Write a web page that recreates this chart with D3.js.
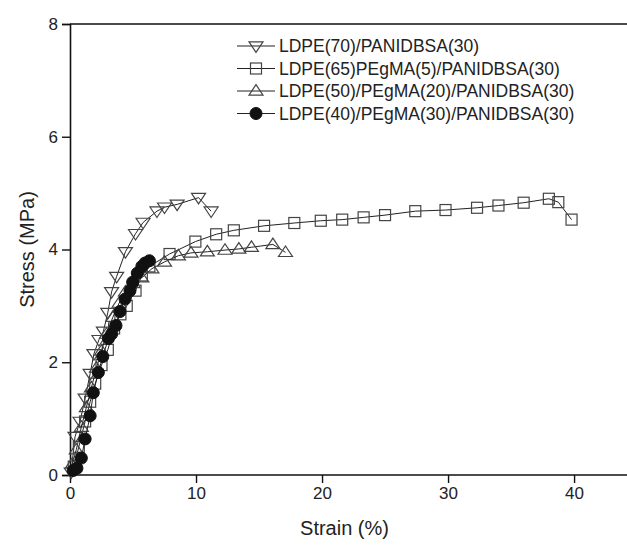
<!DOCTYPE html>
<html>
<head>
<meta charset="utf-8">
<script src="https://cdn.jsdelivr.net/npm/d3@7"></script>
<style>
  body { margin: 0; background: #fff; }
  svg { display: block; font-family: "Liberation Sans", Arial, sans-serif; }
</style>
</head>
<body>
<svg id="chart" width="627" height="545"></svg>
<script>
// strain (%), stress (MPa)
var ldpe70 = [[0.1,0.05],[0.4,0.68],[0.8,0.95],[1.2,1.36],[1.6,1.8],[1.9,2.15],[2.3,2.4],[2.65,2.55],[3.0,2.88],[3.3,3.25],[3.7,3.52],[4.4,3.96],[5.2,4.28],[5.8,4.48],[6.9,4.68],[7.5,4.75],[8.5,4.8],[10.2,4.92],[11.2,4.68]];
var ldpe65 = [[0.3,0.15],[0.7,0.5],[1.2,0.95],[1.6,1.3],[2.0,1.62],[2.5,1.95],[3.0,2.22],[3.5,2.6],[4.0,2.85],[4.5,3.0],[5.2,3.27],[5.7,3.54],[6.3,3.7],[7.9,3.92],[9.95,4.14],[11.6,4.27],[13.0,4.34],[15.4,4.42],[17.8,4.47],[19.9,4.51],[21.6,4.53],[23.3,4.57],[25.0,4.61],[27.4,4.68],[29.8,4.70],[32.3,4.74],[34.0,4.78],[36.0,4.83],[38.0,4.90],[38.75,4.84],[39.8,4.53]];
var ldpe50 = [[0.2,0.2],[0.5,0.45],[0.9,0.85],[1.3,1.2],[1.7,1.55],[2.1,1.9],[2.5,2.2],[2.9,2.5],[3.4,2.8],[3.9,3.05],[4.4,3.25],[5.0,3.4],[5.7,3.5],[6.5,3.66],[7.5,3.78],[8.6,3.89],[9.6,3.94],[10.9,3.96],[12.3,3.99],[13.4,4.01],[14.4,4.04],[16.1,4.09],[17.1,3.95]];
var ldpe40 = [[0.25,0.08],[0.55,0.12],[0.9,0.3],[1.2,0.64],[1.6,1.05],[1.85,1.46],[2.25,1.82],[2.6,2.1],[3.05,2.42],[3.3,2.5],[3.65,2.65],[3.97,2.9],[4.37,3.12],[4.76,3.27],[4.97,3.42],[5.34,3.58],[5.7,3.7],[5.95,3.76],[6.3,3.8]];

var seriesNames = ["LDPE(70)/PANIDBSA(30)", "LDPE(65)PEgMA(5)/PANIDBSA(30)", "LDPE(50)/PEgMA(20)/PANIDBSA(30)", "LDPE(40)/PEgMA(30)/PANIDBSA(30)"];
var seriesData = [ldpe70, ldpe65, ldpe50, ldpe40];
var seriesMarks = ["down", "square", "up", "dot"];

var xTicks = [0, 10, 20, 30, 40];
var yTicks = [0, 2, 4, 6, 8];

var svg = d3.select("#chart");
var x = d3.scaleLinear().domain([0, 44.2]).range([70, 627]);
var y = d3.scaleLinear().domain([0, 8]).range([475, 24]);

// minor ticks
var xMinor = d3.range(0, 44.2, 10 / 6);
var yMinor = d3.range(0, 8.01, 0.5);

var gx = svg.append("g").attr("transform", "translate(0," + y(0) + ")");
gx.call(d3.axisBottom(x).tickValues(xMinor).tickSize(5).tickFormat(""));
gx.call(d3.axisBottom(x).tickValues(xTicks).tickSize(8).tickPadding(4).tickFormat(d3.format("d")));
gx.selectAll("path.domain").attr("d", "M" + x(0) + ",0H627");

var gy = svg.append("g").attr("transform", "translate(" + x(0) + ",0)");
gy.call(d3.axisLeft(y).tickValues(yMinor).tickSize(5).tickFormat(""));
gy.call(d3.axisLeft(y).tickValues(yTicks).tickSize(8).tickPadding(4).tickFormat(d3.format("d")));

svg.selectAll(".domain").attr("stroke", "#111").attr("stroke-width", 1.6);
svg.selectAll(".tick line").attr("stroke", "#111").attr("stroke-width", 1.4);
svg.selectAll(".tick text").attr("font-size", 17).attr("fill", "#222")
  .attr("font-family", "Liberation Sans, Arial, sans-serif");

// top frame
svg.append("line")
  .attr("x1", x(0)).attr("x2", 627).attr("y1", y(8)).attr("y2", y(8))
  .attr("stroke", "#111").attr("stroke-width", 1.6);

svg.append("text")
  .attr("x", (x(0) + 627) / 2 - 4).attr("y", 535)
  .attr("text-anchor", "middle").attr("font-size", 20).attr("fill", "#222")
  .text("Strain (%)");

svg.append("text")
  .attr("transform", "translate(34," + y(4) + ") rotate(-90)")
  .attr("text-anchor", "middle").attr("font-size", 20).attr("fill", "#222")
  .text("Stress (MPa)");

var line = d3.line().x(function(d) { return x(d[0]); }).y(function(d) { return y(d[1]); });

function drawMark(g, type, cx, cy) {
  if (type == "dot") {
    g.append("circle").attr("cx", cx).attr("cy", cy).attr("r", 6)
      .attr("fill", "#111").attr("stroke", "#111");
  } else if (type == "square") {
    g.append("rect").attr("x", cx - 5.5).attr("y", cy - 5.5).attr("width", 11).attr("height", 11)
      .attr("fill", "none").attr("stroke", "#444").attr("stroke-width", 1.2);
  } else {
    var s = 7, dir = type == "down" ? 1 : -1;
    var pts = [[cx - s, cy - dir * s * 0.6], [cx + s, cy - dir * s * 0.6], [cx, cy + dir * s * 0.9]];
    g.append("path").attr("d", "M" + pts.join("L") + "Z")
      .attr("fill", "none").attr("stroke", "#444").attr("stroke-width", 1.2);
  }
}

seriesData.forEach(function(data, i) {
  var g = svg.append("g");
  g.append("path").datum(data).attr("d", line)
    .attr("fill", "none").attr("stroke", "#222").attr("stroke-width", 1);
  data.forEach(function(d) { drawMark(g, seriesMarks[i], x(d[0]), y(d[1])); });
});

// legend
var legend = svg.append("g");
seriesNames.forEach(function(name, i) {
  var ly = 46 + i * 22.5;
  legend.append("line").attr("x1", 237).attr("x2", 275).attr("y1", ly).attr("y2", ly)
    .attr("stroke", "#222").attr("stroke-width", 1);
  drawMark(legend, seriesMarks[i], 256, ly);
  legend.append("text").attr("x", 279).attr("y", ly + 6)
    .attr("font-size", 17.5).attr("fill", "#222").text(name);
});
</script>
</body>
</html>
